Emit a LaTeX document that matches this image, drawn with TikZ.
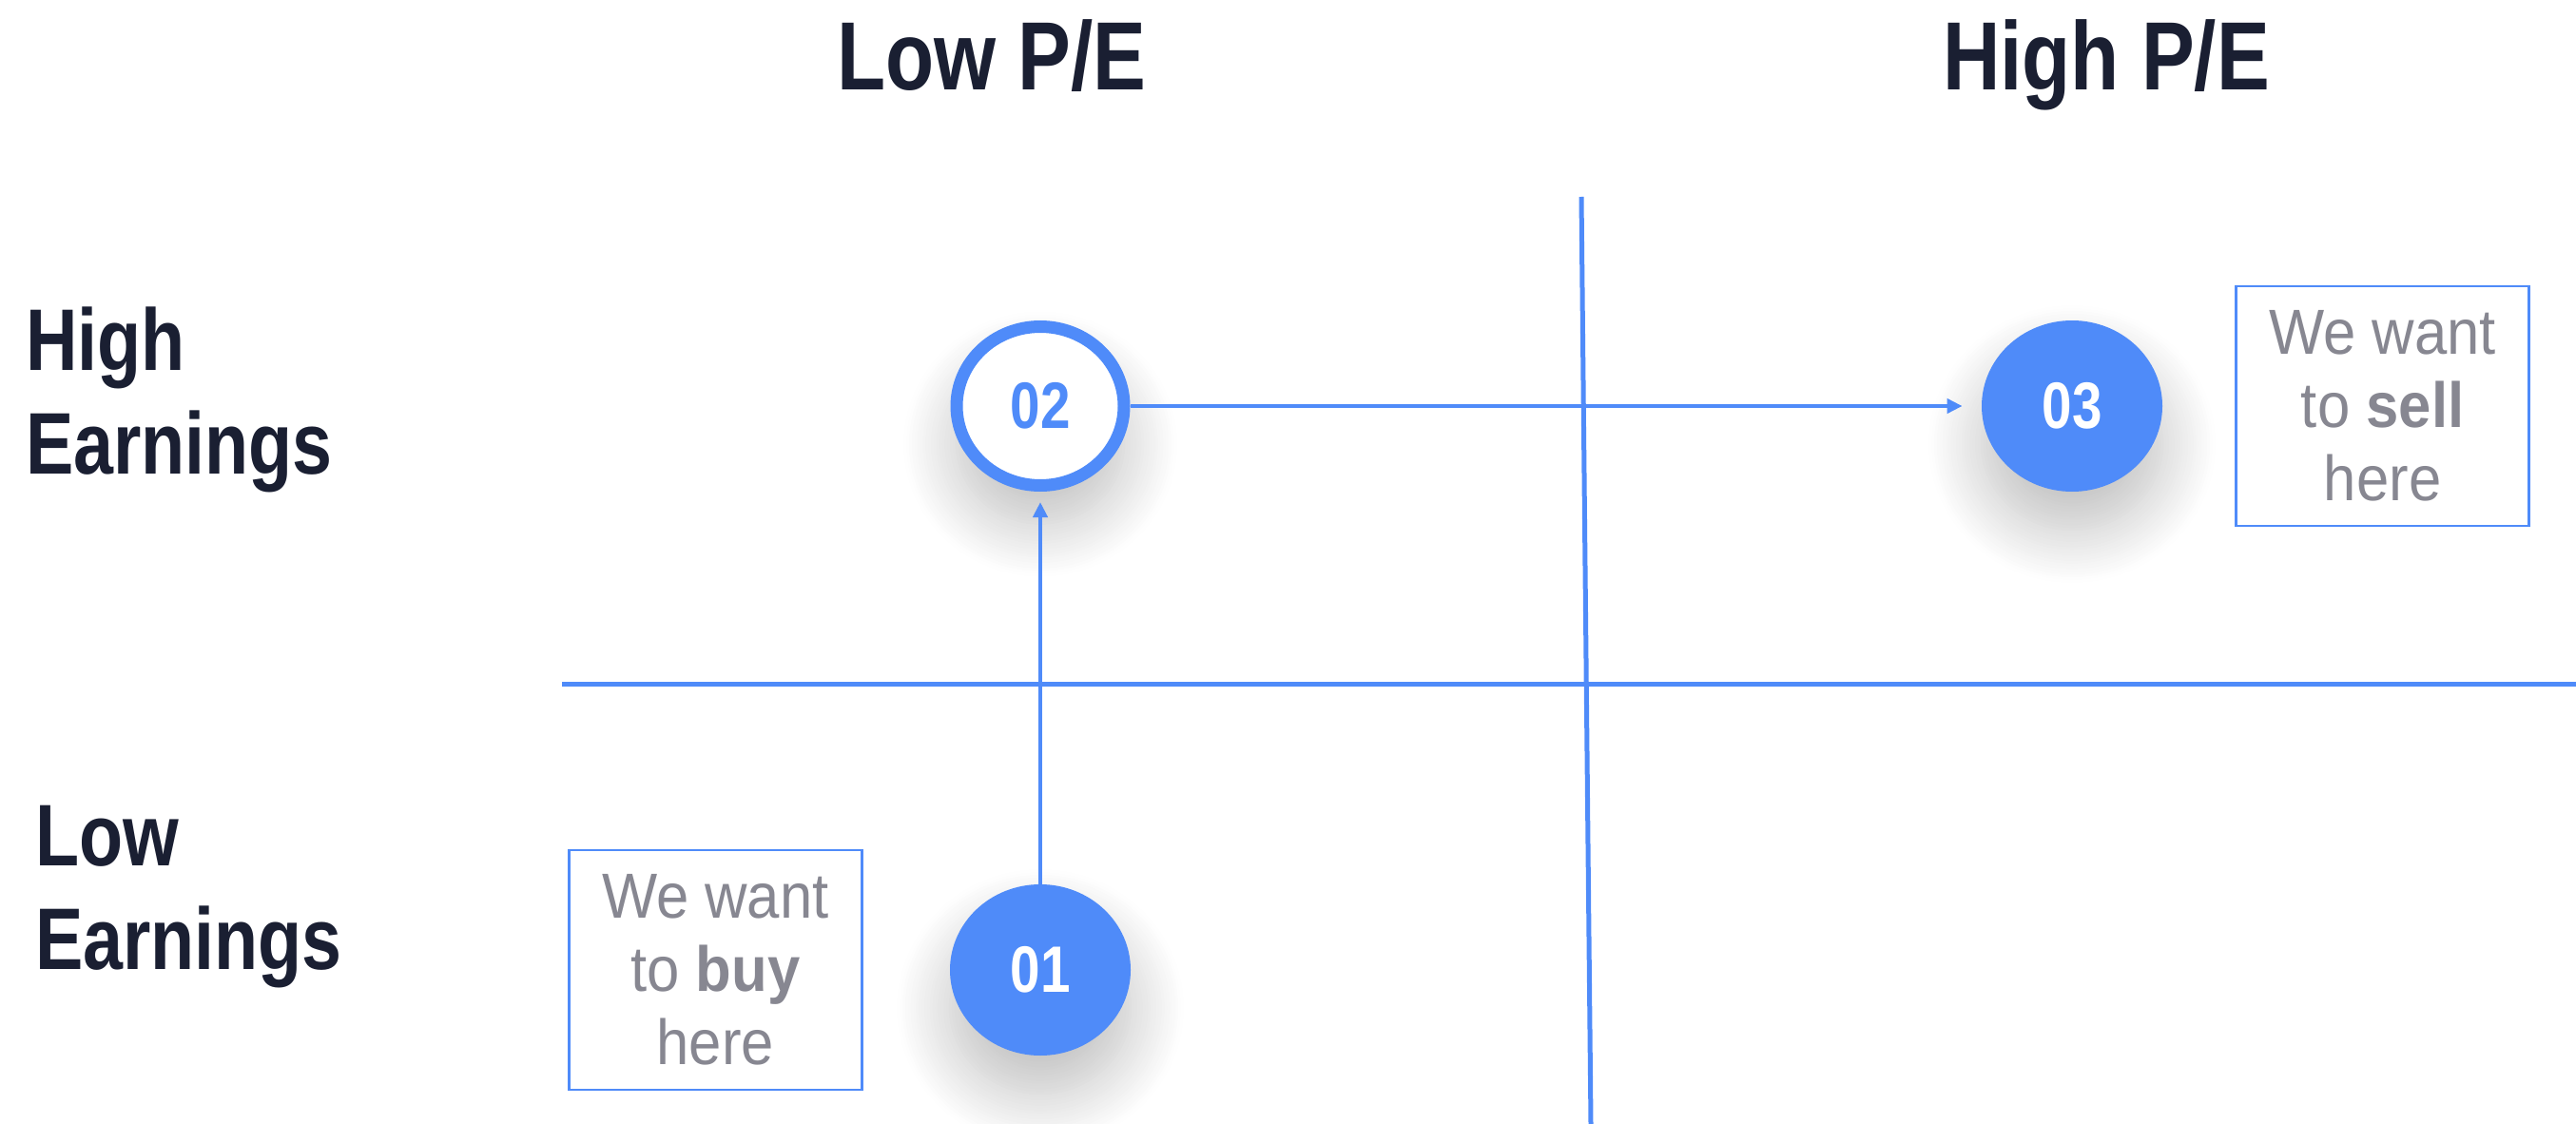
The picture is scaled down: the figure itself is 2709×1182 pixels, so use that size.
\documentclass[tikz,border=0pt]{standalone}
\usepackage{fontspec}
\setmainfont{Liberation Sans}
\newfontfamily\headfont[FakeStretch=0.82]{Liberation Sans}
\newfontfamily\notefont[FakeStretch=0.92]{Liberation Sans}
\usetikzlibrary{shapes,arrows.meta,positioning,shadows.blur}
\definecolor{peblue}{HTML}{4F8BF9}
\definecolor{pedark}{HTML}{1A1F32}
\definecolor{pegray}{HTML}{878791}

\begin{document}
\begin{tikzpicture}[x=0.5pt,y=-0.5pt]
 \tikzset{head node/.style={text=pedark, anchor=base,
 		font=\headfont\bfseries\fontsize{51}{61}\selectfont}, }
 \tikzset{side node/.style={text=pedark, align=left, anchor=base west,
 		font=\headfont\bfseries\fontsize{46}{54.5}\selectfont}, }
 \tikzset{step node/.style={ellipse, fill=peblue, text=white, inner sep=0pt,
 		minimum width=95pt, minimum height=90pt,
 		font=\headfont\bfseries\fontsize{34.5}{40}\selectfont,
 		blur shadow={shadow xshift=0pt, shadow yshift=-20pt,
 		shadow blur radius=28pt, shadow opacity=25, shadow blur steps=20}}, }
 \tikzset{ring node/.style={step node, fill=white, draw=peblue, line width=6.5pt,
 		text=peblue, minimum width=88pt, minimum height=83.5pt}, }
 \tikzset{note node/.style={rectangle, draw=peblue, line width=1.2pt, text=pegray,
 		align=center, minimum width=154pt, minimum height=126pt,
 		font=\notefont\fontsize{33.5}{38.5}\selectfont}, }
 \tikzset{grid line/.style={draw=peblue, line width=2.5pt}, }
 \tikzset{linea/.style={-{Triangle[length=8pt,width=7.5pt]}, draw=peblue, line width=2pt},}
 \useasboundingbox (0,0) rectangle (2709,1182);
 \coordinate (t) at (1663,207);
 \coordinate (b) at (1673,1182);
 \coordinate (l) at (591,719);
 \coordinate (r) at (2709,719);
 \draw[grid line] (t) -- (b);
 \draw[grid line] (l) -- (r);
 \node[head node] (h1) at (1043,95) {Low P/E};
 \node[head node] (h2) at (2215,95) {High P/E};
 \node[side node] (s1) at (20,498) {High\\Earnings};
 \node[side node] (s2) at (30,1019) {Low\\Earnings};
 \node[step node] (1) at (1094,1020) {01};
 \node[ring node] (2) at (1094,427) {02};
 \node[step node] (3) at (2179,427) {03};
 \node[note node] (4)[right=38pt of 3] {We want\\to \textbf{sell}\\here};
 \node[note node] (5)[left=45.5pt of 1] {We want\\to \textbf{buy}\\here};
 \foreach \x /\y /\s in{1/2/5.5pt,2/3/10pt}
 \draw[linea, shorten >=\s] (\x) -- (\y);
% %%
\end{tikzpicture}
\end{document}
